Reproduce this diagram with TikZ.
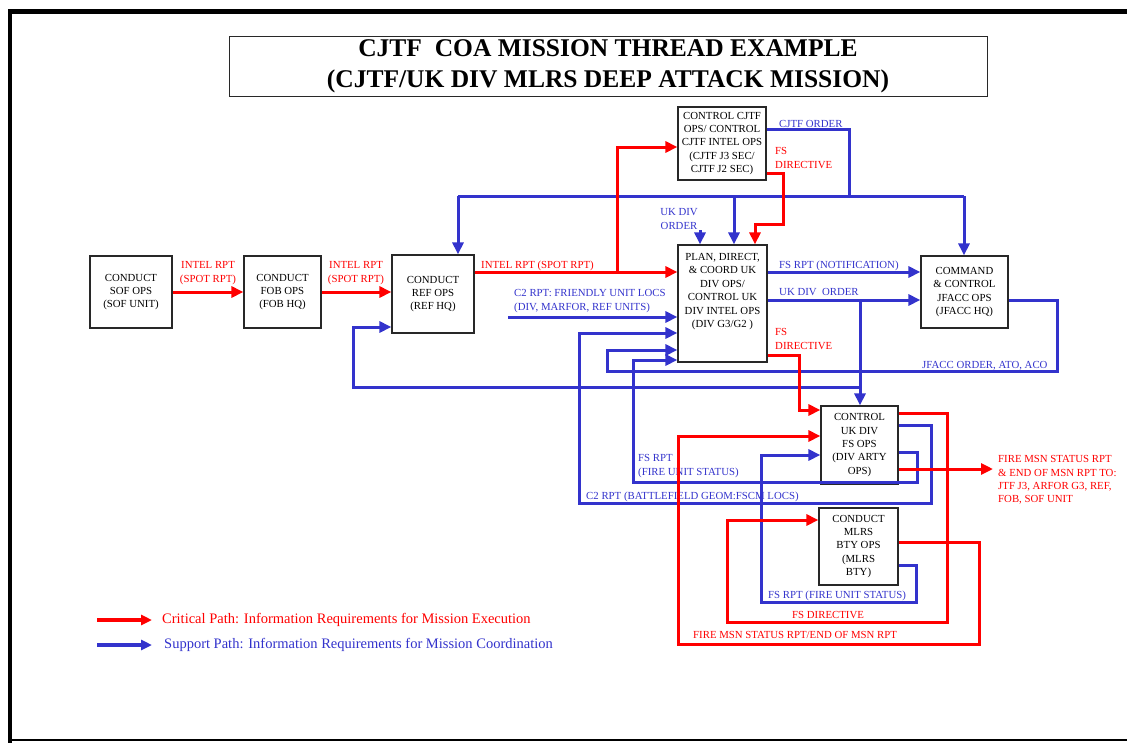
\documentclass[tikz,border=0pt]{standalone}
\usepackage{fontspec}
\setmainfont{Liberation Serif}
\usetikzlibrary{arrows.meta}
\definecolor{critred}{RGB}{255,0,0}
\definecolor{suppblue}{RGB}{51,51,204}
\definecolor{boxline}{RGB}{40,40,40}

\begin{document}
\begin{tikzpicture}[x=1pt,y=-1pt,
  opbox/.style={draw=boxline, line width=1.2pt, fill=white, inner sep=0pt,
    align=center, font=\fontsize{10.8}{13.4}\selectfont},
  boxtext/.style={inner sep=0pt, align=center, font=\fontsize{10.8}{13.4}\selectfont},
  lbl/.style={inner sep=0pt, anchor=west, align=left, font=\fontsize{10.8}{13.4}\selectfont},
  redlbl/.style={lbl, text=critred},
  bluelbl/.style={lbl, text=suppblue},
  crit/.style={draw=critred, line width=3pt, -{Triangle[length=12pt,width=11pt]}},
  supp/.style={draw=suppblue, line width=3pt, -{Triangle[length=12pt,width=11pt]}},
  critline/.style={draw=critred, line width=3pt},
  suppline/.style={draw=suppblue, line width=3pt},
  legtext/.style={inner sep=0pt, anchor=west, font=\fontsize{14.5}{17}\selectfont}
]
\useasboundingbox (0,0) rectangle (1127,742);

% page frame
\draw[line width=5pt] (8,11) -- (1140,11);
\draw[line width=4pt] (10,9) -- (10,750);
\draw[line width=2pt] (8,740) -- (1140,740);

% title
\node[draw=boxline, line width=1pt, minimum width=758pt, minimum height=60pt, inner sep=0pt,
  align=center, font=\fontsize{25.5}{31}\selectfont\bfseries] (title) at (608,66)
  {CJTF\ \ COA MISSION THREAD EXAMPLE\\(CJTF/UK DIV MLRS DEEP ATTACK MISSION)};

% operation boxes
\node[opbox, minimum width=82pt, minimum height=72pt] (sof) at (131,292)
  {CONDUCT\\SOF OPS\\(SOF UNIT)};
\node[opbox, minimum width=77pt, minimum height=72pt] (fob) at (282.5,292)
  {CONDUCT\\FOB OPS\\(FOB HQ)};
\node[opbox, minimum width=82pt, minimum height=78pt] (ref) at (433,294)
  {CONDUCT\\REF OPS\\(REF HQ)};
\node[opbox, minimum width=88pt, minimum height=73pt] (cjtf) at (722,143.5)
  {CONTROL CJTF\\OPS/ CONTROL\\CJTF INTEL OPS\\(CJTF J3 SEC/\\CJTF J2 SEC)};
\node[opbox, minimum width=89pt, minimum height=117pt] (plan) at (722.5,303.5) {};
\node[boxtext] (plantext) at (722.5,291.5)
  {PLAN, DIRECT,\\\& COORD UK\\DIV OPS/\\CONTROL UK\\DIV INTEL OPS\\(DIV G3/G2 )};
\node[opbox, minimum width=87pt, minimum height=72pt] (jfacc) at (964.5,292)
  {COMMAND\\\& CONTROL\\JFACC OPS\\(JFACC HQ)};
\node[opbox, minimum width=77pt, minimum height=78pt] (fsops) at (859.5,445)
  {CONTROL\\UK DIV\\FS OPS\\(DIV ARTY\\OPS)};
\node[opbox, minimum width=79pt, minimum height=77pt] (mlrs) at (858.5,546.5)
  {CONDUCT\\MLRS\\BTY OPS\\(MLRS\\BTY)};

% connector labels
\node[redlbl, anchor=center, align=center] (l1) at (208,273) {INTEL RPT\\(SPOT RPT)};
\node[redlbl, anchor=center, align=center] (l2) at (356,273) {INTEL RPT\\(SPOT RPT)};
\node[redlbl] (l3) at (481,266) {INTEL RPT (SPOT RPT)};
\node[bluelbl] (l4) at (779,124) {CJTF ORDER};
\node[redlbl] (l5) at (775,158) {FS\\DIRECTIVE};
\node[bluelbl, anchor=center, align=center] (l6) at (679,219) {UK DIV\\ORDER};
\node[bluelbl] (l7) at (514,301) {C2 RPT: FRIENDLY UNIT LOCS\\(DIV, MARFOR, REF UNITS)};
\node[bluelbl] (l8) at (779,266) {FS RPT (NOTIFICATION)};
\node[bluelbl] (l9) at (779,292) {UK DIV\ \ ORDER};
\node[redlbl] (l10) at (775,339) {FS\\DIRECTIVE};
\node[bluelbl] (l11) at (922,366) {JFACC ORDER, ATO, ACO};
\node[bluelbl] (l12) at (638,466) {FS RPT\\(FIRE UNIT STATUS)};
\node[bluelbl] (l13) at (586,497) {C2 RPT (BATTLEFIELD GEOM:FSCM LOCS)};
\node[bluelbl] (l14) at (768,596) {FS RPT (FIRE UNIT STATUS)};
\node[redlbl] (l15) at (792,615) {FS DIRECTIVE};
\node[redlbl] (l16) at (693,635) {FIRE MSN STATUS RPT/END OF MSN RPT};
\node[redlbl] (l17) at (998,480)
  {FIRE MSN STATUS RPT\\\& END OF MSN RPT TO:\\JTF J3, ARFOR G3, REF,\\FOB, SOF UNIT};

% free line ends and junctions
\coordinate (c2start) at (508,317);
\coordinate (ukdivstart) at (700,230);
\coordinate (extout) at (993,469);
\coordinate (intelsplit) at (617,272);
\coordinate (busleft) at (458,196);
\coordinate (busmid) at (734,196);
\coordinate (busright) at (964,196);
\coordinate (busjoin) at (849,196);
\coordinate (ordersplit) at (860,300);
\coordinate (orderdown) at (860,387);

% support paths (blue)
\draw[suppline] (cjtf.east |- 0,129) -- (849,129) -- (busjoin);
\draw[suppline] (busleft) -- (busright);
\draw[supp] (busleft) -- (ref.north -| busleft);
\draw[supp] (busmid) -- (plan.north -| busmid);
\draw[supp] (busright) -- (jfacc.north -| busright);
\draw[supp] (ukdivstart) -- (plan.north -| ukdivstart);
\draw[supp] (plan.east |- 0,272) -- (jfacc.west |- 0,272);
\draw[supp] (plan.east |- 0,300) -- (jfacc.west |- 0,300);
\draw[supp] (ordersplit) -- (fsops.north -| ordersplit);
\draw[supp] (orderdown) -- (353,387) -- (353,327) -- (ref.west |- 0,327);
\draw[supp] (jfacc.east |- 0,300) -- (1057,300) -- (1057,371) -- (607,371) -- (607,350)
  -- (plan.west |- 0,350);
\draw[supp] (c2start) -- (plan.west |- c2start);
\draw[supp] (fsops.east |- 0,425) -- (931,425) -- (931,503) -- (579,503) -- (579,333)
  -- (plan.west |- 0,333);
\draw[supp] (fsops.east |- 0,452) -- (917,452) -- (917,482) -- (633,482) -- (633,360)
  -- (plan.west |- 0,360);
\draw[supp] (mlrs.east |- 0,565) -- (916,565) -- (916,602) -- (761,602) -- (761,455)
  -- (fsops.west |- 0,455);

% critical paths (red)
\draw[crit] (sof.east) -- (fob.west);
\draw[crit] (fob.east) -- (fob.east -| ref.west);
\draw[crit] (ref.east |- intelsplit) -- (plan.west |- intelsplit);
\draw[crit] (intelsplit) -- (617,147) -- (cjtf.west |- 0,147);
\draw[crit] (cjtf.east |- 0,173) -- (783,173) -- (783,224) -- (755,224) -- (plan.north -| 755,0);
\draw[crit] (plan.east |- 0,355) -- (799,355) -- (799,410) -- (fsops.west |- 0,410);
\draw[crit] (fsops.east |- 0,413) -- (947,413) -- (947,622) -- (727,622) -- (727,520)
  -- (mlrs.west |- 0,520);
\draw[crit] (mlrs.east |- 0,542) -- (979,542) -- (979,644) -- (678,644) -- (678,436)
  -- (fsops.west |- 0,436);
\draw[crit] (fsops.east |- extout) -- (extout);

% legend
\coordinate (legr) at (97,620);
\coordinate (legb) at (97,645);
\draw[critred, line width=3.2pt, -{Triangle[length=11pt,width=10pt]}] (legr) -- ++(55,0);
\draw[suppblue, line width=3.2pt, -{Triangle[length=11pt,width=10pt]}] (legb) -- ++(55,0);
\node[legtext, text=critred] (legrtext) at (162,620)
  {Critical Path: Information Requirements for Mission Execution};
\node[legtext, text=suppblue] (legbtext) at (164,645)
  {Support Path: Information Requirements for Mission Coordination};
\end{tikzpicture}
\end{document}
